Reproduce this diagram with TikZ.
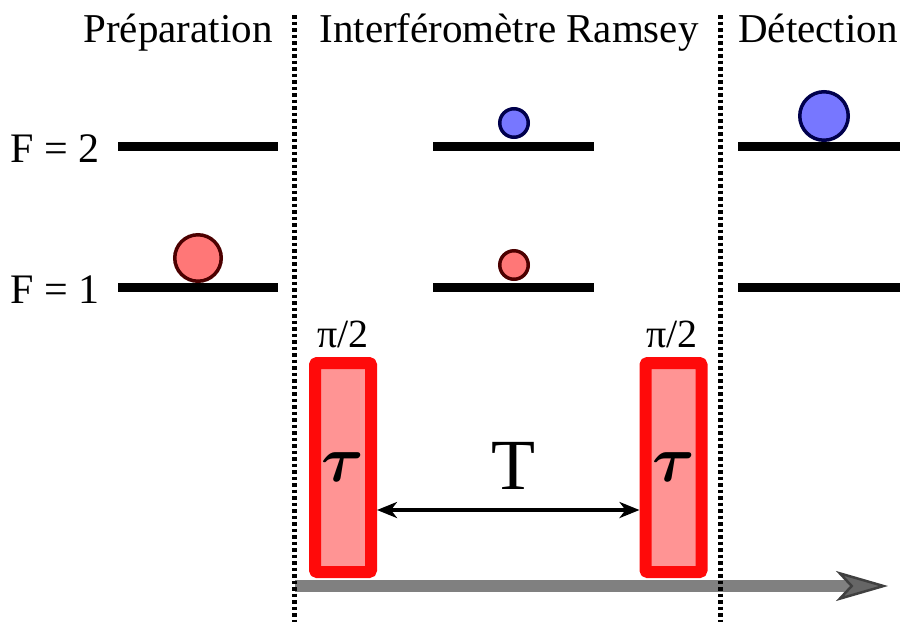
\documentclass[tikz,border=0pt]{standalone}
\usepackage{fontspec}
\setmainfont{Liberation Serif}
\usetikzlibrary{arrows.meta,positioning}
\definecolor{atomred}{HTML}{FF7777}
\definecolor{atomblue}{HTML}{7777FF}
\definecolor{pulsered}{HTML}{FF0A0A}
\definecolor{pulsefill}{HTML}{FF9494}
\newcommand{\pulsetau}{\scalebox{6.5}{\boldmath$\tau$}}
\tikzset{
  header/.style={font=\fontsize{41}{48}\selectfont, anchor=base, inner sep=0pt},
  flabel/.style={font=\fontsize{42}{48}\selectfont, anchor=base east, inner sep=0pt},
  hfsline/.style={line width=9pt},
  atomA/.style={circle, draw=black!70!red, fill=atomred, line width=3.5pt, inner sep=0pt},
  atomB/.style={circle, draw=black!70!blue, fill=atomblue, line width=3.5pt, inner sep=0pt},
  pulse/.style={draw=pulsered, fill=pulsefill, line width=12pt, rounded corners=1pt,
                line join=round, minimum width=56pt, minimum height=209pt, inner sep=0pt},
  plabel/.style={font=\fontsize{40}{46}\selectfont, anchor=base, inner sep=0pt},
  divider/.style={line width=5pt, dash pattern=on 3.5pt off 3pt},
  tspan/.style={{Stealth[length=20pt,width=16pt,inset=6pt]}-{Stealth[length=20pt,width=16pt,inset=6pt]},
                line width=4pt},
  timeline/.style={-{Stealth[length=52pt,width=30pt,inset=14pt,line width=2.5pt,color=black!75,fill=black!60]},
                   line width=12pt, draw=black!50}
}

\begin{document}
\begin{tikzpicture}[x=1pt,y=-1pt]
  \useasboundingbox (0,0) rectangle (904,622);
  % stages
  \node[header] (prep) at (178,42) {Préparation};
  \node[header] (ramsey) at (509,42) {Interféromètre Ramsey};
  \node[header] (detect) at (818,42) {Détection};
  \node[flabel] (f2) at (100,162) {F = 2};
  \node[flabel] (f1) at (100,303) {F = 1};
  % hyperfine levels
  \foreach \xa/\xb in {118/278, 433/594, 738/900} {
    \draw[hfsline] (\xa,146) -- (\xb,146);
    \draw[hfsline] (\xa,287) -- (\xb,287);
  }
  % populations
  \node[atomA, minimum size=46.5pt] (prepatom) at (198,258) {};
  \node[atomB, minimum size=28.5pt] (midup) at (514,123) {};
  \node[atomA, minimum size=28.5pt] (middown) at (514,265) {};
  \node[atomB, minimum size=48.5pt] (detatom) at (824,116) {};
  % time axis
  \coordinate (t0) at (295,586);
  \coordinate (t1) at (888,586);
  \draw[timeline] (t0) -- (t1);
  % pulses
  \node[pulse] (pulse1) at (343,467.5) {\pulsetau};
  \node[pulse] (pulse2) at (673.5,467.5) {\pulsetau};
  \node[plabel] (half1) at (343,347) {π/2};
  \node[plabel] (half2) at (672,347) {π/2};
  \draw[tspan] ([yshift=-42.5pt]pulse1.east) -- ([yshift=-42.5pt]pulse2.west);
  \node[font=\fontsize{72}{80}\selectfont, anchor=base, inner sep=0pt] (tlabel) at (513,489) {T};
  % separators
  \coordinate (d1top) at (294,15);
  \coordinate (d1bot) at (294,622);
  \coordinate (d2top) at (720,15);
  \coordinate (d2bot) at (720,622);
  \draw[divider] (d1top) -- (d1bot);
  \draw[divider] (d2top) -- (d2bot);
\end{tikzpicture}
\end{document}
